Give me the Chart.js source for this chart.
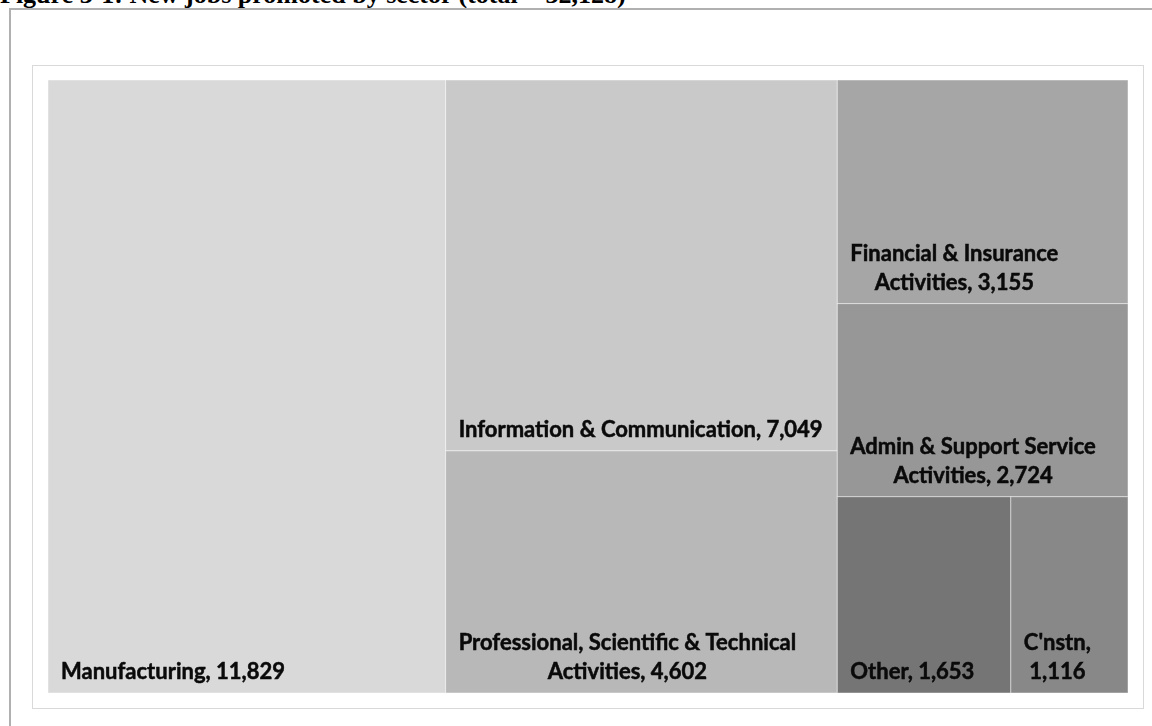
<!DOCTYPE html>
<html>
<head>
<meta charset="utf-8">
<title>New jobs promoted by sector</title>
<script src="https://cdn.jsdelivr.net/npm/chart.js@4.4.1/dist/chart.umd.min.js"></script>
<style>
    html, body { margin: 0; padding: 0; background: #ffffff; overflow: hidden; }
    body { width: 1152px; height: 726px; position: relative; }
    #titulo {
        position: absolute; left: 0; top: -18px;
        font: bold 26px 'Liberation Serif', serif; line-height: 26px;
        white-space: nowrap; color: #000;
    }
    #marco {
        position: absolute; left: 9px; top: 8px; width: 1300px; height: 900px;
        border-left: 2px solid #b0b0b0; border-top: 2px solid #b0b0b0;
    }
    #caja {
        position: absolute; left: 32px; top: 65px; width: 1110px; height: 642px;
        border: 1px solid #d9d9d9;
    }
    #grafico { position: absolute; left: 0; top: 0; }
</style>
</head>
<body>
<div id="titulo">Figure 3-1: New jobs promoted by sector (total = 32,128)</div>
<div id="marco"></div>
<div id="caja"></div>
<canvas id="grafico" width="1152" height="726"></canvas>
<script>
// =====================================================
// Datos
// =====================================================

const sectores = [
    "Manufacturing",
    "Information & Communication",
    "Professional, Scientific & Technical Activities",
    "Financial & Insurance Activities",
    "Admin & Support Service Activities",
    "Other",
    "C'nstn"
];

const empleos = [11829, 7049, 4602, 3155, 2724, 1653, 1116];

const tonos = [
    "#d9d9d9",
    "#c9c9c9",
    "#b8b8b8",
    "#a6a6a6",
    "#979797",
    "#757575",
    "#888888"
];

// =====================================================
// Layout squarified (en unidades de datos)
// =====================================================

function peor(fila, lado) {
    const s = fila.reduce((a, b) => a + b, 0);
    let m = 0;
    fila.forEach(r => {
        m = Math.max(m, (lado * lado * r) / (s * s), (s * s) / (lado * lado * r));
    });
    return m;
}

function squarify(valores, x, y, w, h) {
    const total = valores.reduce((a, b) => a + b, 0);
    const areas = valores.map(v => v / total * w * h);
    const celdas = [];
    let fila = [];
    let i = 0;

    function colocar() {
        const s = fila.reduce((a, b) => a + b, 0);
        if (w >= h) {
            const grosor = s / h;
            let yy = y;
            fila.forEach(r => {
                celdas.push({ x: x, y: yy, w: grosor, h: r / grosor });
                yy += r / grosor;
            });
            x += grosor; w -= grosor;
        } else {
            const grosor = s / w;
            let xx = x;
            fila.forEach(r => {
                celdas.push({ x: xx, y: y, w: r / grosor, h: grosor });
                xx += r / grosor;
            });
            y += grosor; h -= grosor;
        }
        fila = [];
    }

    while (i < areas.length) {
        const lado = Math.min(w, h);
        const nueva = fila.concat([areas[i]]);
        if (fila.length === 0 || peor(nueva, lado) <= peor(fila, lado)) {
            fila = nueva;
            i++;
        } else {
            colocar();
        }
    }
    if (fila.length) colocar();
    return celdas;
}

// =====================================================
// Texto
// =====================================================

function partirTexto(ctx, texto, ancho) {
    const palabras = texto.split(" ");
    const lineas = [];
    let actual = "";
    palabras.forEach(p => {
        const prueba = actual ? actual + " " + p : p;
        if (actual && ctx.measureText(prueba).width > ancho) {
            lineas.push(actual);
            actual = p;
        } else {
            actual = prueba;
        }
    });
    if (actual) lineas.push(actual);
    return lineas;
}

// =====================================================
// Plugin treemap
// =====================================================

const treemapPlugin = {
    id: "treemap",
    afterDatasetsDraw(chart) {
        const { ctx, chartArea, scales } = chart;
        const aspecto = chartArea.width / chartArea.height;
        const celdas = squarify(empleos, 0, 0, aspecto, 1);

        ctx.save();
        celdas.forEach((c, i) => {
            const x0 = scales.x.getPixelForValue(c.x / aspecto);
            const x1 = scales.x.getPixelForValue((c.x + c.w) / aspecto);
            const y0 = scales.y.getPixelForValue(c.y);
            const y1 = scales.y.getPixelForValue(c.y + c.h);

            ctx.fillStyle = tonos[i];
            ctx.fillRect(x0, y0, x1 - x0, y1 - y0);
            ctx.strokeStyle = "rgba(255,255,255,0.45)";
            ctx.lineWidth = 1;
            ctx.strokeRect(x0, y0, x1 - x0, y1 - y0);
        });

        // etiquetas abajo a la izquierda, líneas centradas entre sí
        ctx.font = "bold 22px Lato, sans-serif";
        ctx.fillStyle = "#0a0a0a";
        ctx.strokeStyle = "#0a0a0a";
        ctx.lineWidth = 0.5;
        ctx.textAlign = "center";
        ctx.textBaseline = "alphabetic";

        celdas.forEach((c, i) => {
            const x0 = scales.x.getPixelForValue(c.x / aspecto);
            const x1 = scales.x.getPixelForValue((c.x + c.w) / aspecto);
            const y1 = scales.y.getPixelForValue(c.y + c.h);

            const texto = sectores[i] + ", " + empleos[i].toLocaleString("en-US");
            const lineas = partirTexto(ctx, texto, (x1 - x0) - 12);
            const bloque = Math.max(...lineas.map(l => ctx.measureText(l).width));
            const centro = x0 + 13 + bloque / 2;

            lineas.forEach((l, k) => {
                const base = y1 - 14 - (lineas.length - 1 - k) * 29;
                ctx.fillText(l, centro, base);
                ctx.strokeText(l, centro, base);
            });
        });
        ctx.restore();
    }
};

// =====================================================
// Gráfico
// =====================================================

new Chart(document.getElementById("grafico"), {
    type: "scatter",
    data: {
        labels: sectores,
        datasets: [{ data: [] }]
    },
    options: {
        responsive: false,
        animation: false,
        devicePixelRatio: 1,
        layout: {
            padding: { left: 48, top: 80, right: 24, bottom: 33 }
        },
        scales: {
            x: { type: "linear", min: 0, max: 1, display: false },
            y: { type: "linear", min: 0, max: 1, reverse: true, display: false }
        },
        plugins: {
            legend: { display: false },
            tooltip: { enabled: false }
        }
    },
    plugins: [treemapPlugin]
});
</script>
</body>
</html>
